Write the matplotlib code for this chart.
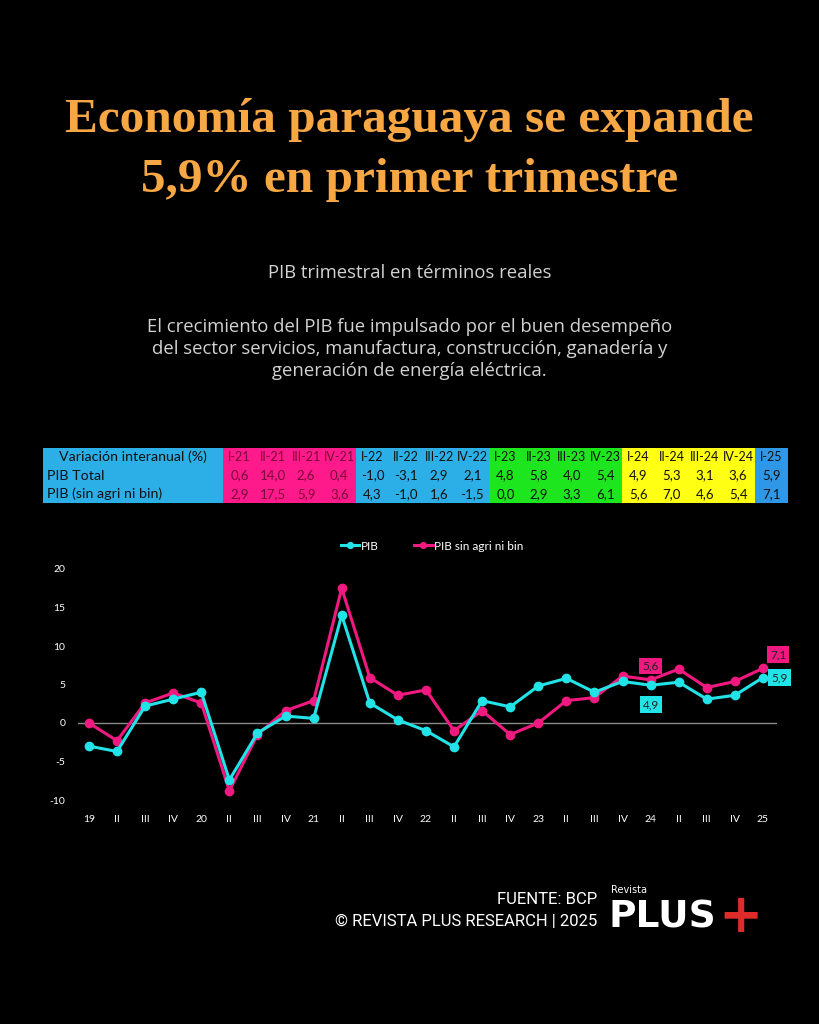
import matplotlib
matplotlib.use("Agg")
import matplotlib.pyplot as plt
from matplotlib.patches import Rectangle

plt.rcParams['axes.unicode_minus'] = False

# data (variación interanual %, trimestral)
x_labels = ['19', 'II', 'III', 'IV', '20', 'II', 'III', 'IV', '21', 'II', 'III', 'IV',
            '22', 'II', 'III', 'IV', '23', 'II', 'III', 'IV', '24', 'II', 'III', 'IV', '25']
pib = [-3.0, -3.7, 2.2, 3.1, 4.0, -7.4, -1.3, 0.9, 0.6, 14.0, 2.6, 0.4,
       -1.0, -3.1, 2.9, 2.1, 4.8, 5.8, 4.0, 5.4, 4.9, 5.3, 3.1, 3.6, 5.9]
pib_sin = [0.0, -2.3, 2.6, 3.9, 2.6, -8.8, -1.5, 1.6, 2.9, 17.5, 5.9, 3.6,
           4.3, -1.0, 1.6, -1.5, 0.0, 2.9, 3.3, 6.1, 5.6, 7.0, 4.6, 5.4, 7.1]
table_cols = ['I-21', 'II-21', 'III-21', 'IV-21', 'I-22', 'II-22', 'III-22', 'IV-22',
              'I-23', 'II-23', 'III-23', 'IV-23', 'I-24', 'II-24', 'III-24', 'IV-24', 'I-25']
table_rows = ['Variación interanual (%)', 'PIB Total', 'PIB (sin agri ni bin)']

BG = 'black'
CYAN = '#22E3E8'
PINK = '#F0197F'
ORANGE = '#F7A743'
GREY = '#D2D2D2'
year_colors = {'21': '#FF1A8C', '22': '#2CAEE6', '23': '#1EE61E', '24': '#FFFF14', '25': '#2E97E8'}
LBLUE = '#2CAEE6'

W, H = 819, 1024
fig = plt.figure(figsize=(W / 100, H / 100), dpi=100, facecolor=BG)

def fx(px):
    return px / W

def fy(py):
    return 1 - py / H

# title and texts
fig.text(0.5, fy(120), 'Economía paraguaya se expande', ha='center', va='center',
         color=ORANGE, fontsize=35.5, fontweight='bold', family='Liberation Serif')
fig.text(0.5, fy(180), '5,9% en primer trimestre', ha='center', va='center',
         color=ORANGE, fontsize=35.5, fontweight='bold', family='Liberation Serif')
fig.text(0.5, fy(273), 'PIB trimestral en términos reales', ha='center', va='center',
         color=GREY, fontsize=13.3, family='Open Sans')
para = ('El crecimiento del PIB fue impulsado por el buen desempeño\n'
        'del sector servicios, manufactura, construcción, ganadería y\n'
        'generación de energía eléctrica.')
fig.text(0.5, fy(349), para, ha='center', va='center', color=GREY, fontsize=13.3,
         family='Open Sans', linespacing=1.3)

# table
tab = fig.add_axes([fx(43), fy(503), fx(788 - 43), (503 - 448) / H])
tab.set_xlim(0, 745)
tab.set_ylim(3, 0)
tab.axis('off')
first_w = 180
col_w = (745 - first_w) / len(table_cols)
for r in range(3):
    tab.add_patch(Rectangle((0, r), first_w, 1, facecolor=LBLUE, edgecolor='none'))
tab.text(first_w / 2, 0.5, table_rows[0], ha='center', va='center', fontsize=10.3,
         family='Lato', color='#111111')
tab.text(4, 1.5, table_rows[1], ha='left', va='center', fontsize=10.3, family='Lato', color='#111111')
tab.text(4, 2.5, table_rows[2], ha='left', va='center', fontsize=10.3, family='Lato', color='#111111')
vals_total = pib[-len(table_cols):]
vals_sin = pib_sin[-len(table_cols):]
for i, col in enumerate(table_cols):
    yr = col.split('-')[1]
    c = year_colors[yr]
    x0 = first_w + i * col_w
    tab.add_patch(Rectangle((x0, 0), col_w + 0.3, 3, facecolor=c, edgecolor='none'))
    tc = '#7A0A35' if yr == '21' else '#111111'
    xc = x0 + col_w / 2
    tab.text(xc, 0.5, col, ha='center', va='center', fontsize=9, family='Lato', color=tc)
    tab.text(xc, 1.5, f'{vals_total[i]:.1f}'.replace('.', ','), ha='center', va='center',
             fontsize=9.5, family='Lato', color=tc)
    tab.text(xc, 2.5, f'{vals_sin[i]:.1f}'.replace('.', ','), ha='center', va='center',
             fontsize=9.5, family='Lato', color=tc)

# line chart
ax = fig.add_axes([fx(78), fy(800), fx(777 - 78), (800 - 569) / H], facecolor=BG)
xs = list(range(len(x_labels)))
ax.axhline(0, color='#8A8A8A', lw=1, zorder=1)
ax.plot(xs, pib, color=CYAN, lw=2.2, marker='o', ms=6, label='PIB', zorder=3)
ax.plot(xs, pib_sin, color=PINK, lw=2.2, marker='o', ms=6, label='PIB sin agri ni bin', zorder=2)
ax.set_xlim(-0.39, 24.5)
ax.set_ylim(-10, 20)
ax.set_yticks([-10, -5, 0, 5, 10, 15, 20])
ax.set_xticks(xs)
ax.set_xticklabels(x_labels)
ax.tick_params(length=0, colors='white', labelsize=7.5, pad=9)
ax.tick_params(axis='x', pad=11)
for lbl in ax.get_xticklabels() + ax.get_yticklabels():
    lbl.set_family('Lato')
for s in ax.spines.values():
    s.set_visible(False)

# labels in boxes
def box_label(i, vals, color, dx, dy):
    ax.annotate(f'{vals[i]:.1f}'.replace('.', ','), (i, vals[i]), xytext=(dx, dy),
                textcoords='offset points', ha='center', va='center', fontsize=8.5,
                color='#222222', family='Lato',
                bbox=dict(boxstyle='square,pad=0.25', facecolor=color, edgecolor='none'),
                zorder=5)

box_label(20, pib_sin, PINK, 0, 10)
box_label(20, pib, CYAN, 0, -14)
box_label(24, pib_sin, PINK, 11, 10)
box_label(24, pib, CYAN, 12, 0)

leg = ax.legend(loc='center', ncol=2, frameon=False, fontsize=8.5,
                handlelength=1.6, columnspacing=3, markerscale=0.7, handletextpad=0.1)
leg.set_bbox_to_anchor(((432 - 78) / (777 - 78), (800 - 546) / (800 - 569)), transform=ax.transAxes)
for t in leg.get_texts():
    t.set_color('white')
    t.set_family('Lato')

# footer
fig.text(fx(597), fy(899), 'FUENTE: BCP', ha='right', va='center', color='white',
         fontsize=12, family='Roboto')
fig.text(fx(597), fy(922), '© REVISTA PLUS RESEARCH | 2025', ha='right', va='center',
         color='white', fontsize=12, family='Roboto')
fig.text(fx(611), fy(890), 'Revista', ha='left', va='center', color='white', fontsize=7,
         family='DejaVu Sans')
fig.text(fx(609), fy(918), 'PLUS', ha='left', va='center', color='white', fontsize=27,
         fontweight='heavy', family='DejaVu Sans')
fig.text(fx(740), fy(917), '+', ha='center', va='center', color='#E02B2B', fontsize=38,
         fontweight='heavy', family='DejaVu Sans')

fig.savefig('out.png', dpi=100, facecolor=BG)
